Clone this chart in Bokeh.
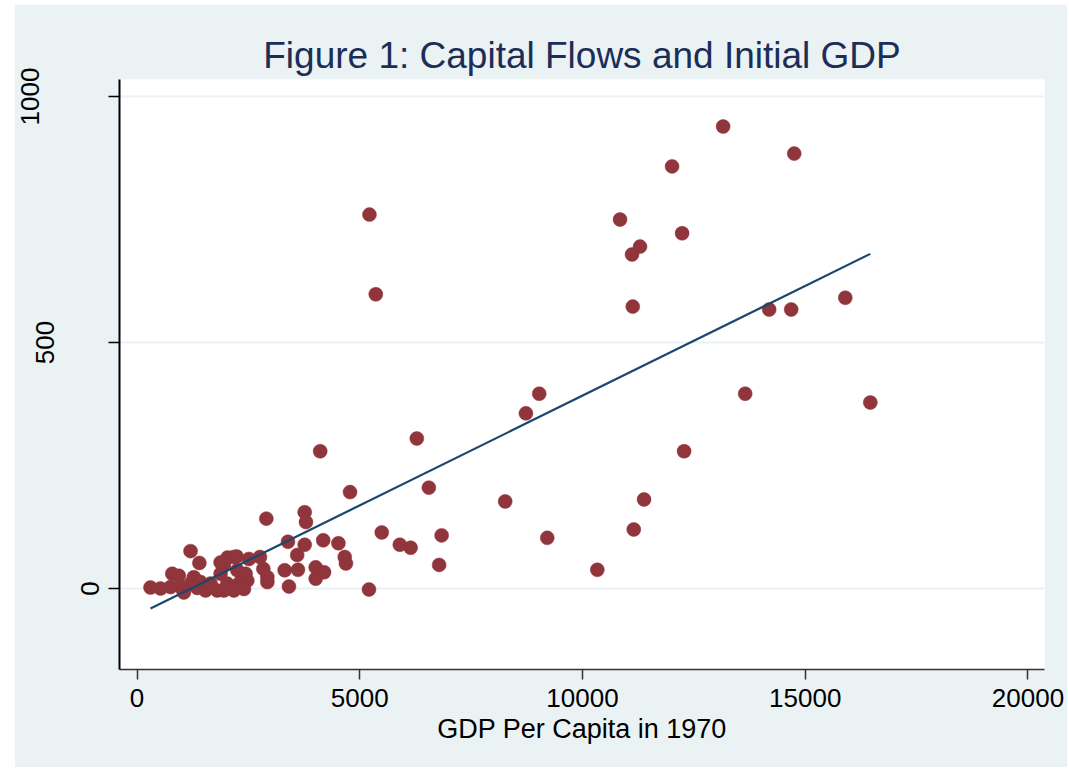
from bokeh.plotting import figure
from bokeh.models import Range1d, FixedTicker, LinearAxis
from bokeh.embed import file_html
from bokeh.resources import INLINE

# GDP per capita in 1970 (x) and capital flows (y)
gdp = [13157, 14753, 12011, 5218, 10843, 12236, 11292, 11112, 5360, 15899,
       11128, 14191, 14685, 13652, 9029, 8730, 16461, 6281, 4112, 12281,
       6551, 4782, 8265, 11382, 3764, 3793, 2903, 5494, 6838, 9209,
       11151, 5899, 6142, 4180, 3389, 3764, 4521, 10333, 6782, 5207,
       4663, 4690, 3596, 1202, 1400,
       303, 528, 753, 791, 939, 978, 1052, 1202, 1276, 1427,
       1539, 1652, 1802, 1876, 1876, 1951, 2034, 2101, 2175, 2236,
       2027, 2252, 2288, 2438, 2476, 2400, 2175, 1951, 2512, 2760,
       2836, 2926, 2926, 3315, 3613, 4011, 4011, 4198, 3411, 1353]
flows = [939, 884, 858, 760, 750, 722, 695, 679, 598, 591,
         573, 567, 567, 396, 396, 356, 378, 305, 279, 279,
         205, 196, 177, 181, 155, 135, 142, 114, 108, 103,
         120, 89, 83, 98, 95, 89, 92, 38, 48, -2,
         64, 51, 68, 76, 52,
         2, 0, 3, 30, 26, 3, -8, 10, 23, 13,
         -4, 10, -4, 53, 30, 47, 63, 3, 64, 65,
         10, 37, 10, 30, 16, -1, -4, -4, 60, 64,
         40, 23, 13, 37, 38, 43, 20, 33, 4, 1]

# fitted line
fit_intercept = -54.0
fit_slope = 0.0446

x_ticks = [0, 5000, 10000, 15000, 20000]
y_ticks = [0, 500, 1000]

title_text = "Figure 1: Capital Flows and Initial GDP"
x_title = "GDP Per Capita in 1970"

BG = "#EAF2F3"
MAROON = "#90353B"
NAVY = "#1A476F"
TITLE_C = "#1C2D57"
FONT = "Liberation Sans"

p = figure(width=1053, height=763, output_backend="svg", toolbar_location=None,
           x_range=Range1d(-393, 20371), y_range=Range1d(-164.6, 1034.6),
           min_border_left=105, min_border_right=23, min_border_top=75,
           min_border_bottom=98)
p.margin = (4, 0, 0, 14)
p.background_fill_color = "white"
p.border_fill_color = BG
p.outline_line_color = None

p.title.text = title_text
p.title.align = "center"
p.title.text_font = FONT
p.title.text_font_size = "37px"
p.title.text_font_style = "normal"
p.title.text_color = TITLE_C
p.title.standoff = 8

# x axis
xa = p.xaxis[0]
xa.ticker = FixedTicker(ticks=x_ticks)
xa.minor_tick_line_color = None
xa.major_tick_in = 0
xa.major_tick_out = 10
xa.major_tick_line_color = "#333333"
xa.major_tick_line_width = 1.5
xa.axis_line_color = "#333333"
xa.axis_line_width = 1.5
xa.major_label_text_font = FONT
xa.major_label_text_font_size = "26px"
xa.major_label_text_color = "black"
xa.major_label_standoff = 9
xa.axis_label = x_title
xa.axis_label_text_font = FONT
xa.axis_label_text_font_size = "27px"
xa.axis_label_text_font_style = "normal"
xa.axis_label_text_color = "black"
xa.axis_label_standoff = 4


def style_y(ax, standoff):
    ax.major_label_orientation = "vertical"
    ax.major_label_text_font = FONT
    ax.major_label_text_font_size = "26px"
    ax.major_label_text_color = "black"
    ax.major_label_standoff = standoff


# y axis: the line and all ticks, labelled "0"; the longer labels sit further out
ya = p.yaxis[0]
ya.ticker = FixedTicker(ticks=y_ticks[:1], minor_ticks=y_ticks[1:])
ya.major_tick_in = 0
ya.major_tick_out = 11
ya.minor_tick_in = 0
ya.minor_tick_out = 11
ya.major_tick_line_color = "black"
ya.minor_tick_line_color = "black"
ya.major_tick_line_width = 1.5
ya.minor_tick_line_width = 1.5
ya.axis_line_color = "black"
ya.axis_line_width = 2
style_y(ya, 9)

for tick, standoff in ((y_ticks[1], 24), (y_ticks[2], -6)):
    ax = LinearAxis(ticker=FixedTicker(ticks=[tick]))
    ax.axis_line_color = None
    ax.major_tick_line_color = None
    ax.minor_tick_line_color = None
    ax.major_tick_out = 0
    ax.major_tick_in = 0
    ax.minor_tick_out = 0
    ax.minor_tick_in = 0
    style_y(ax, standoff)
    p.add_layout(ax, "left")

p.xgrid.grid_line_color = None
p.ygrid.ticker = FixedTicker(ticks=y_ticks)
p.ygrid.grid_line_color = BG
p.ygrid.grid_line_width = 2

p.scatter(gdp, flows, size=14, fill_color=MAROON, line_color=MAROON, line_width=0.5)

x0, x1 = min(gdp), max(gdp)
p.line([x0, x1], [fit_intercept + fit_slope * x0, fit_intercept + fit_slope * x1],
       line_color=NAVY, line_width=2.2)

open("out.html", "w").write(file_html(p, INLINE))
